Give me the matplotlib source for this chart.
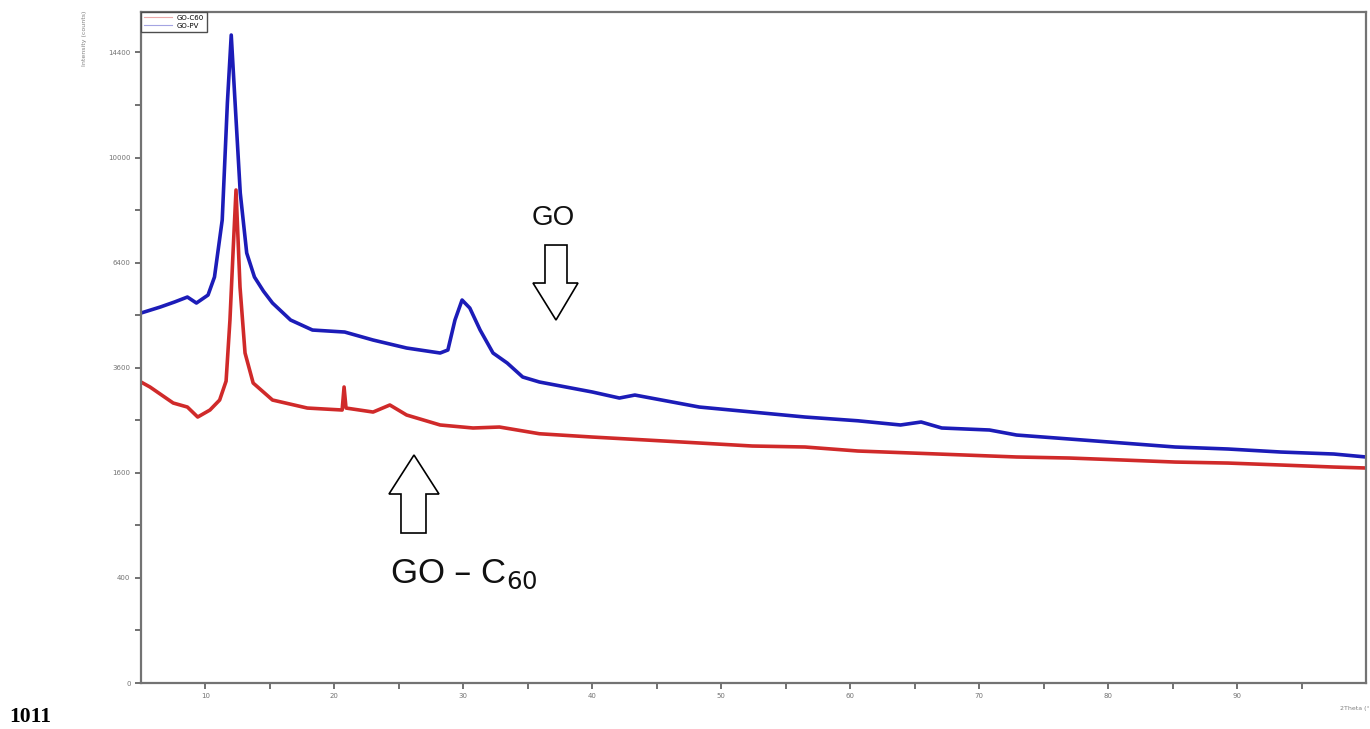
import matplotlib
matplotlib.use("Agg")
import matplotlib.pyplot as plt
from matplotlib.patches import Polygon
import numpy as np

# XRD patterns (2theta in degrees, intensity in counts)
go_2theta = [5.0, 6.5, 7.6, 8.6, 9.3, 10.2, 10.7, 11.3, 11.7, 12.0, 12.3, 12.7, 13.2, 13.8,
             14.5, 15.2, 16.6, 18.3, 20.8, 23.0, 25.6, 28.2, 28.8, 29.35, 29.9, 30.5, 31.3, 32.3,
             33.4, 34.6, 35.9, 40.0, 42.1, 43.3, 48.3, 52.4, 56.5, 60.6, 63.9, 65.5, 67.1,
             70.8, 72.9, 77.0, 81.1, 85.2, 89.3, 93.4, 97.5, 100.0]
go_counts = [4957, 5120, 5257, 5395, 5229, 5451, 5969, 7763, 12181, 15206, 12181, 8694, 6696, 5969,
             5560, 5229, 4772, 4512, 4461, 4260, 4064, 3944, 4016, 4772, 5312, 5092, 4512, 3944,
             3708, 3391, 3281, 3067, 2941, 3003, 2758, 2659, 2562, 2490, 2411, 2467, 2355,
             2318, 2227, 2156, 2086, 2017, 1983, 1932, 1899, 1850]

goc60_2theta = [5.0, 5.7, 7.5, 8.6, 9.4, 10.35, 11.1, 11.6, 11.9, 12.15, 12.37, 12.68, 13.07, 13.7,
                15.2, 17.9, 20.6, 20.75, 20.9, 23.0, 24.3, 25.6, 28.2, 30.75, 32.8, 35.9, 40.0,
                44.2, 48.3, 52.4, 56.5, 60.6, 64.7, 68.8, 72.9, 77.0, 81.1, 85.2, 89.3, 93.4,
                97.5, 100.0]
goc60_counts = [3281, 3173, 2839, 2758, 2562, 2699, 2900, 3300, 4772, 6800, 8802, 5679, 3944, 3259,
                2900, 2738, 2699, 3173, 2738, 2659, 2799, 2601, 2411, 2355, 2373, 2250, 2191,
                2138, 2086, 2034, 2017, 1949, 1916, 1883, 1850, 1833, 1801, 1768, 1752, 1721,
                1689, 1674]

y_ticks = [0, 400, 1600, 3600, 6400, 10000, 14400]
y_minor = [100, 900, 2500, 4900, 8100, 12100]
x_ticks = [10, 20, 30, 40, 50, 60, 70, 80, 90]

fig = plt.figure(figsize=(13.7, 7.29), dpi=100)
ax = fig.add_axes([0.1029, 0.0631, 0.8942, 0.9204])

ax.plot(goc60_2theta, goc60_counts, color="#d02a2a", lw=2.6, label="GO-C60")
ax.plot(go_2theta, go_counts, color="#1c1cb8", lw=2.6, label="GO-PV")

# square-root intensity axis, like the diffractometer software
ax.set_yscale("function", functions=(lambda v: np.sqrt(np.clip(v, 0, None)), lambda v: v ** 2))
ax.set_ylim(0, 16305)
ax.set_xlim(5, 100)
ax.set_yticks(y_ticks)
ax.set_yticks(y_minor, minor=True)
ax.set_xticks(x_ticks)
ax.set_xticks(np.arange(15, 100, 10), minor=True)
ax.tick_params(which="both", direction="out", length=4, width=1.2, colors="0.35",
               labelsize=5, labelcolor="0.45")

for s in ax.spines.values():
    s.set_color("0.45")
    s.set_linewidth(1.6)

leg = ax.legend(loc="upper left", borderaxespad=0, fontsize=5, fancybox=False,
                edgecolor="0.3", framealpha=1, handlelength=4, borderpad=0.4,
                labelspacing=0.3)
for h in leg.get_lines():
    h.set_linewidth(0.8)
    h.set_alpha(0.4)
leg.get_frame().set_linewidth(1.0)

fig.text(0.062, 0.985, "Intensity (counts)", rotation=90, ha="center", va="top",
         fontsize=4.5, color="0.5")
fig.text(0.978, 0.028, "2Theta (°)", ha="left", va="center", fontsize=4.5, color="0.5")


def axfrac(px, py):
    return ((px - 141) / 1225, (683 - py) / 671)


# hollow arrows pointing at the two patterns
down_arrow = [(545, 245), (567, 245), (567, 283), (578, 283), (556, 320), (533, 283), (545, 283)]
up_arrow = [(401, 533), (426, 533), (426, 494), (439, 494), (414, 455), (389, 494), (401, 494)]
for pts in (down_arrow, up_arrow):
    ax.add_patch(Polygon([axfrac(*p) for p in pts], closed=True, transform=ax.transAxes,
                         facecolor="white", edgecolor="black", lw=1.2, zorder=5))

ax.text(*axfrac(553, 218), "GO", transform=ax.transAxes, ha="center", va="center",
        fontsize=20, family="Liberation Sans", color="#111111")
ax.text(*axfrac(390, 583), "GO – C$_{60}$", transform=ax.transAxes, ha="left", va="baseline",
        fontsize=25, family="Liberation Sans", color="#111111")

fig.text(0.007, 0.0165, "1011", ha="left", va="center", fontsize=15.5, fontweight="bold",
         family="Liberation Serif")

fig.savefig("out.png", dpi=100)
